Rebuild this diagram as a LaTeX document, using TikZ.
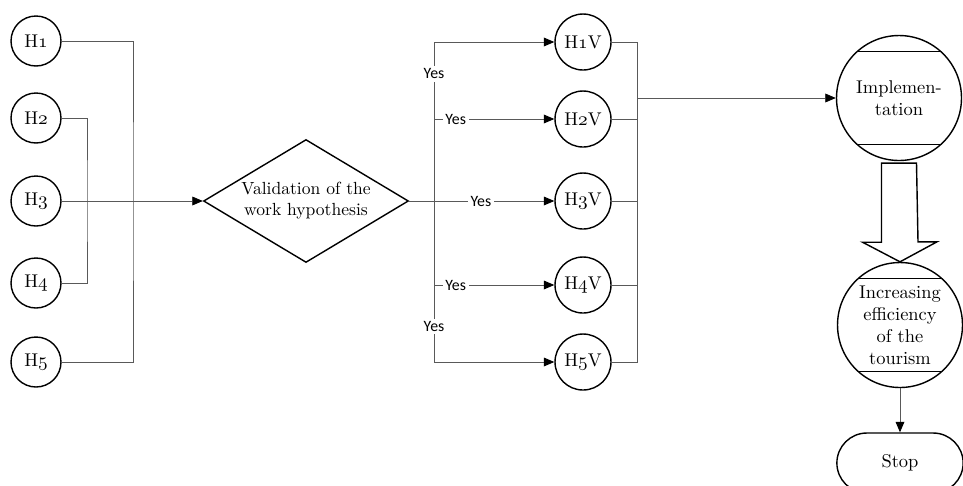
\documentclass[tikz,border=0pt]{standalone}
\usepackage{fontspec}
\newfontfamily\yesfont{Carlito}
\usetikzlibrary{shapes.geometric,shapes.misc,arrows.meta}

\newcommand{\hnum}[1]{$\mathnormal{#1}$}

\begin{document}
\begin{tikzpicture}[
  x=0.02cm, y=-0.02cm,
  hyp/.style={draw, circle, line width=0.8pt, minimum size=1cm, inner sep=0pt,
    font=\fontsize{10.5}{12}\selectfont},
  hypv/.style={hyp, minimum size=1.12cm},
  decision/.style={draw, diamond, line width=0.8pt, aspect=1.67, inner sep=1pt,
    minimum width=4.1cm, minimum height=2.46cm, align=center,
    font=\fontsize{10}{12}\selectfont},
  chords/.style={path picture={%
    \draw[line width=0.8pt]
      ([yshift=-0.32cm]path picture bounding box.north west) -- ([yshift=-0.32cm]path picture bounding box.north east)
      ([yshift=0.32cm]path picture bounding box.south west) -- ([yshift=0.32cm]path picture bounding box.south east);
  }},
  process/.style={draw, circle, chords, line width=0.8pt, minimum size=2.5cm, inner sep=0pt,
    align=center, font=\fontsize{10.5}{12.5}\selectfont},
  terminal/.style={draw, rounded rectangle, line width=0.8pt, minimum width=2.76cm,
    minimum height=1.2cm, font=\fontsize{10.5}{12.5}\selectfont},
  wire/.style={draw=black!65, line width=0.5pt},
  arr/.style={wire, -{Triangle[length=6pt,width=5pt,color=black]}},
  yes/.style={fill=white, inner sep=1.5pt, font=\yesfont\fontsize{9}{10}\selectfont},
]
  \useasboundingbox (0,0) rectangle (963,485);

  % hypotheses
  \node[hyp] (h1) at (36,41) {H\hnum{1}};
  \node[hyp] (h2) at (36,118) {H\hnum{2}};
  \node[hyp] (h3) at (36,201) {H\hnum{3}};
  \node[hyp] (h4) at (36,283) {H\hnum{4}};
  \node[hyp] (h5) at (36,362) {H\hnum{5}};

  \node[decision] (valid) at (306,201) {Validation of the\\work hypothesis};

  % validated hypotheses
  \node[hypv] (h1v) at (583,42) {H\hnum{1}V};
  \node[hypv] (h2v) at (583,119) {H\hnum{2}V};
  \node[hypv] (h3v) at (583,201) {H\hnum{3}V};
  \node[hypv] (h4v) at (583,285) {H\hnum{4}V};
  \node[hypv] (h5v) at (583,362) {H\hnum{5}V};

  \node[process] (impl) at (899,98) {Implemen-\\tation};
  \node[process] (incr) at (900,325) {Increasing\\efficiency\\of the\\tourism};
  \node[terminal] (stop) at (900,463) {Stop};

  \coordinate (busA) at (133,201);
  \coordinate (busB) at (87,201);
  \coordinate (split) at (434,201);
  \coordinate (join) at (637,98);

  % left side
  \draw[wire] (h1.east) -| (busA) |- (h5.east);
  \draw[wire] (h2.east) -| (busB) |- (h4.east);
  \draw[arr] (h3.east) -- (valid.west);

  % branches
  \draw[wire] (valid.east) -- (split);
  \draw[arr] (split) |- node[yes, pos=0.4] {Yes} (h1v.west);
  \draw[arr] (split) |- node[yes, pos=0.59] {Yes} (h2v.west);
  \draw[arr] (split) -- node[yes, pos=0.39] {Yes} (h3v.west);
  \draw[arr] (split) |- node[yes, pos=0.59] {Yes} (h4v.west);
  \draw[arr] (split) |- node[yes, pos=0.39] {Yes} (h5v.west);

  \foreach \n in {h1v,h2v,h3v,h4v,h5v}
    \draw[wire] (\n.east) -| (join);
  \draw[arr] (join) -- (join -| impl.west);

  % hollow arrow
  \draw[line width=0.8pt, fill=white] ([shift={(-17.5,2)}]impl.south) -- ++(0,79) -- ++(-19,0)
    -- (incr.north) -- ++(37,-20) -- ++(-19,0) -- ([shift={(17.5,2)}]impl.south) -- cycle;

  \draw[arr] (incr.south) -- (stop.north);
\end{tikzpicture}
\end{document}
